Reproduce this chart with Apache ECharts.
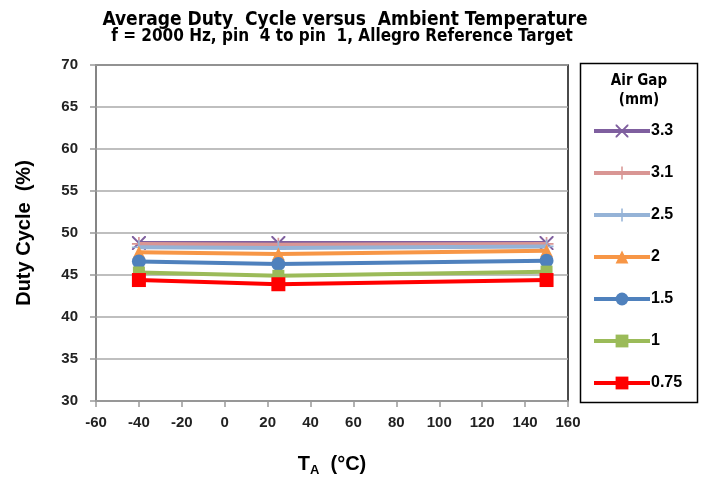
<!DOCTYPE html>
<html><head><meta charset="utf-8">
<script src="https://cdn.jsdelivr.net/npm/echarts@6/dist/echarts.min.js"></script>
<style>html,body{margin:0;padding:0;background:#fff}#c{width:704px;height:482px}</style>
</head><body><div id="c"></div>
<script>
const temps = [-40, 25, 150];
const gapNames = ['3.3', '3.1', '2.5', '2', '1.5', '1', '0.75'];
const gap33 = [48.8, 48.8, 48.8];
const gap31 = [48.7, 48.6, 48.7];
const gap25 = [48.3, 48.2, 48.4];
const gap20 = [47.7, 47.5, 47.9];
const gap15 = [46.6, 46.3, 46.7];
const gap10 = [45.3, 44.9, 45.4];
const gap075 = [44.4, 43.9, 44.4];
const xTicks = [-60, -40, -20, 0, 20, 40, 60, 80, 100, 120, 140, 160];
const yTicks = [30, 35, 40, 45, 50, 55, 60, 65, 70];

const allVals = [gap33, gap31, gap25, gap20, gap15, gap10, gap075];
const colors = ['#7f5f9f', '#d99694', '#95b3d7', '#f79646', '#4f81bd', '#9bbb59', '#ff0000'];
const symbols = [
  'path://M0,0 L1,0 L5,4 L9,0 L10,0 L10,1 L6,5 L10,9 L10,10 L9,10 L5,6 L1,10 L0,10 L0,9 L4,5 L0,1 Z',
  'path://M4.4,0 L5.6,0 L5.6,4.4 L10,4.4 L10,5.6 L5.6,5.6 L5.6,10 L4.4,10 L4.4,5.6 L0,5.6 L0,4.4 L4.4,4.4 Z',
  'path://M4.4,0 L5.6,0 L5.6,4.4 L10,4.4 L10,5.6 L5.6,5.6 L5.6,10 L4.4,10 L4.4,5.6 L0,5.6 L0,4.4 L4.4,4.4 Z',
  'triangle', 'circle', 'rect', 'rect'];
const sizes = [14, 14, 14, 13, 14, 12, 14];
const narrow = '"DejaVu Sans Condensed", "Liberation Sans", sans-serif';

const series = gapNames.map((n, i) => ({
  name: n, type: 'line',
  data: temps.map((t, j) => [t, allVals[i][j]]),
  symbol: symbols[i], symbolSize: sizes[i],
  lineStyle: {width: 4, color: colors[i]},
  itemStyle: {color: colors[i]},
  z: 2 + i
}));

const chart = echarts.init(document.getElementById('c'));
chart.setOption({
  animation: false,
  textStyle: {fontFamily: 'Liberation Sans'},
  title: [{
    text: 'Average Duty  Cycle versus  Ambient Temperature',
    left: 345, textAlign: 'center', top: 11, padding: 0,
    textStyle: {fontFamily: narrow, fontWeight: 'bold', fontSize: 19, color: '#000'}
  }, {
    text: 'f = 2000 Hz, pin  4 to pin  1, Allegro Reference Target',
    left: 342, textAlign: 'center', top: 28, padding: 0,
    textStyle: {fontFamily: narrow, fontWeight: 'bold', fontSize: 17, color: '#000'}
  }],
  grid: {left: 96, right: 136, top: 65, bottom: 80, show: true, borderColor: '#111', borderWidth: 1.5},
  xAxis: {
    type: 'value', min: -60, max: 160, interval: 20,
    name: '{b|T}{s|A}{b|  (°C)}', nameLocation: 'middle', nameGap: 51,
    nameTextStyle: {rich: {
      b: {fontWeight: 'bold', fontSize: 20, color: '#000', fontFamily: 'Liberation Sans'},
      s: {fontWeight: 'bold', fontSize: 13, color: '#000', verticalAlign: 'bottom', padding: [12, 0, 0, 0], fontFamily: 'Liberation Sans'}
    }},
    axisLine: {show: true, onZero: false, lineStyle: {color: '#999', width: 1.5}},
    axisTick: {show: true, length: 6, lineStyle: {color: '#999', width: 1.5}},
    axisLabel: {color: '#222', fontWeight: 'bold', fontSize: 15, margin: 14, formatter: v => xTicks.includes(v) ? String(v) : ''},
    splitLine: {show: false}
  },
  yAxis: {
    type: 'value', min: 30, max: 70, interval: 5,
    name: 'Duty Cycle  (%)', nameLocation: 'middle', nameGap: 62, nameRotate: 90,
    nameTextStyle: {fontWeight: 'bold', fontSize: 20, color: '#000'},
    axisLine: {show: true, onZero: false, lineStyle: {color: '#999', width: 1.5}},
    axisTick: {show: true, length: 6, lineStyle: {color: '#999', width: 1.5}},
    axisLabel: {color: '#222', fontWeight: 'bold', fontSize: 15, margin: 18, formatter: v => yTicks.includes(v) ? String(v) : ''},
    splitLine: {show: true, lineStyle: {color: '#aaa', width: 1.5}}
  },
  legend: {
    orient: 'vertical', left: 587, top: 118, itemGap: 26,
    itemWidth: 56, itemHeight: 16,
    data: gapNames,
    lineStyle: {width: 4},
    textStyle: {fontWeight: 'bold', fontSize: 16, color: '#000', padding: [0, 0, 0, -4]}
  },
  graphic: [
    {type: 'rect', shape: {x: 580.5, y: 63.5, width: 117, height: 339}, style: {fill: 'none', stroke: '#000', lineWidth: 1.5}, silent: true},
    {type: 'text', x: 639, y: 72, style: {text: 'Air Gap\n(mm)', align: 'center', fontFamily: narrow, fontWeight: 'bold', fontSize: 15, lineHeight: 19, fill: '#000'}}
  ],
  series: series
});
</script></body></html>
